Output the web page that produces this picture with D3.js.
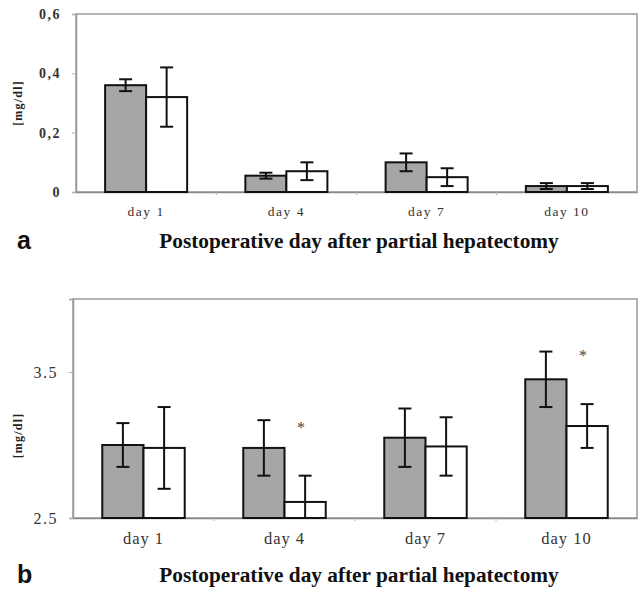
<!DOCTYPE html>
<html><head><meta charset="utf-8">
<script src="https://cdn.jsdelivr.net/npm/d3@7"></script>
<style>body{margin:0;background:#fff}</style>
</head><body>
<svg id="c" width="639" height="589"></svg>
<script>
const categories = ["day 1","day 4","day 7","day 10"];
const seriesNames = ["gray","white"];
const seriesFill = ["#a6a6a6","#ffffff"];

const aGray = [0.36,0.055,0.10,0.02];
const aGrayErr = [0.02,0.01,0.03,0.01];
const aWhite = [0.32,0.07,0.05,0.02];
const aWhiteErr = [0.10,0.03,0.03,0.01];
const aTicks = [0,0.2,0.4,0.6];
const aTickLabels = ["0","0,2","0,4","0,6"];

const bGray = [3.00,2.98,3.05,3.45];
const bGrayErr = [0.15,0.19,0.20,0.19];
const bWhite = [2.98,2.61,2.99,3.13];
const bWhiteErr = [0.28,0.18,0.20,0.15];
const bSignif = [false,true,false,true];
const bTicks = [2.5,3.5];
const bTickLabels = ["2.5","3.5"];

const unitLabel = "[mg/dl]";
const xTitle = "Postoperative day after partial hepatectomy";
const panelLetters = ["a","b"];

const svg = d3.select("#c");
const serif = "'Liberation Serif','Times New Roman',serif";

function panel(o){
  const g = svg.append("g");
  const x0 = d3.scaleBand().domain(categories).range([o.left,o.right]).padding(0);
  const x1 = d3.scaleBand().domain(seriesNames).range([0,x0.bandwidth()]).paddingInner(0).paddingOuter(0.71);
  const y = d3.scaleLinear().domain(o.domain).range([o.bottom,o.top]);

  // frame
  g.append("rect").attr("x",o.left).attr("y",o.top).attr("width",o.right-o.left).attr("height",o.bottom-o.top)
    .attr("fill","none").attr("stroke","#9a9a9a").attr("stroke-width",1.5);

  // left axis
  const ya = g.append("g").attr("transform",`translate(${o.left},0)`)
    .call(d3.axisLeft(y).tickValues(o.ticks).tickFormat((d,i)=>o.tickLabels[i]).tickSize(4).tickPadding(11));
  ya.select(".domain").attr("stroke","#9a9a9a").attr("stroke-width",1.5);
  ya.selectAll(".tick line").attr("stroke","#b0b0b0");
  ya.selectAll(".tick text").attr("font-family",serif).attr("font-size",o.tickFs).attr("font-weight",o.tickWeight)
    .attr("fill","#333").attr("letter-spacing",o.tickLs);

  // bottom axis (category labels)
  const xa = g.append("g").attr("transform",`translate(0,${o.bottom})`)
    .call(d3.axisBottom(x0).tickSize(0).tickPadding(o.catPad));
  xa.select(".domain").attr("stroke","#8a8a8a").attr("stroke-width",1.5);
  xa.selectAll(".tick text").attr("font-family",serif).attr("font-size",o.catFs).attr("fill","#333")
    .attr("letter-spacing",o.catLs);
  // category boundary ticks
  g.selectAll(".bt").data(categories.slice(1)).join("line")
    .attr("x1",d=>x0(d)).attr("x2",d=>x0(d)).attr("y1",o.bottom).attr("y2",o.bottom+3)
    .attr("stroke","#b0b0b0");

  const data = categories.map((c,i)=>({c, vals:[
    {s:"gray",v:o.gray[i],e:o.grayErr[i],f:seriesFill[0]},
    {s:"white",v:o.white[i],e:o.whiteErr[i],f:seriesFill[1]}]}));

  const cg = g.selectAll(".cat").data(data).join("g").attr("transform",d=>`translate(${x0(d.c)},0)`);
  const bars = cg.selectAll(".b").data(d=>d.vals).join("g");
  bars.append("rect").attr("x",d=>x1(d.s)).attr("width",x1.bandwidth())
    .attr("y",d=>y(d.v)).attr("height",d=>y(o.domain[0])-y(d.v))
    .attr("fill",d=>d.f).attr("stroke","#111").attr("stroke-width",2);
  const cap = 6.5;
  bars.each(function(d){
    const s = d3.select(this);
    const cx = x1(d.s)+x1.bandwidth()/2;
    const yt = y(d.v+d.e);
    const lowV = d.v-d.e;
    const yb = y(Math.max(lowV,o.domain[0]));
    s.append("line").attr("x1",cx).attr("x2",cx).attr("y1",yt).attr("y2",yb).attr("stroke","#111").attr("stroke-width",2);
    s.append("line").attr("x1",cx-cap).attr("x2",cx+cap).attr("y1",yt).attr("y2",yt).attr("stroke","#111").attr("stroke-width",2);
    if(lowV>=o.domain[0]) s.append("line").attr("x1",cx-cap).attr("x2",cx+cap).attr("y1",yb).attr("y2",yb).attr("stroke","#111").attr("stroke-width",2);
  });

  if(o.signif){
    cg.filter((d,i)=>o.signif[i]).append("text")
      .attr("x",d=>x1("white")+x1.bandwidth()/2-4)
      .attr("y",d=>y(d.vals[1].v+d.vals[1].e)-43)
      .attr("text-anchor","middle").attr("font-family",serif).attr("font-size",16).attr("fill","#444").text("*");
  }

  // y unit label
  g.append("text").attr("transform",`translate(${o.unitX},${(o.top+o.bottom)/2+o.unitDy}) rotate(-90)`)
    .attr("text-anchor","middle").attr("font-family",serif).attr("font-weight","bold").attr("font-size",12)
    .attr("letter-spacing",1.2).attr("fill","#222").text(unitLabel);

  // panel letter
  g.append("text").attr("x",17).attr("y",o.titleY+1).attr("font-family","'Liberation Sans',Arial,sans-serif")
    .attr("font-weight","bold").attr("font-size",25).attr("fill","#111").text(o.letter);
  // x title
  g.append("text").attr("x",359).attr("y",o.titleY).attr("text-anchor","middle").attr("font-family",serif)
    .attr("font-weight","bold").attr("font-size",21.3).attr("fill","#111").text(xTitle);
}

panel({left:76,right:637,top:14,bottom:192,domain:[0,0.6],ticks:aTicks,tickLabels:aTickLabels,
  gray:aGray,grayErr:aGrayErr,white:aWhite,whiteErr:aWhiteErr,
  tickFs:14,tickWeight:"bold",tickLs:1.5,catFs:13.5,catLs:1.5,catPad:14,
  unitX:22,unitDy:0,titleY:248,letter:panelLetters[0]});
panel({left:73,right:637,top:299,bottom:518,domain:[2.5,4.0],ticks:bTicks,tickLabels:bTickLabels,
  gray:bGray,grayErr:bGrayErr,white:bWhite,whiteErr:bWhiteErr,signif:bSignif,
  tickFs:16,tickWeight:"normal",tickLs:1.5,catFs:16.5,catLs:1,catPad:14,
  unitX:22,unitDy:27,titleY:582,letter:panelLetters[1]});
</script>
</body></html>
